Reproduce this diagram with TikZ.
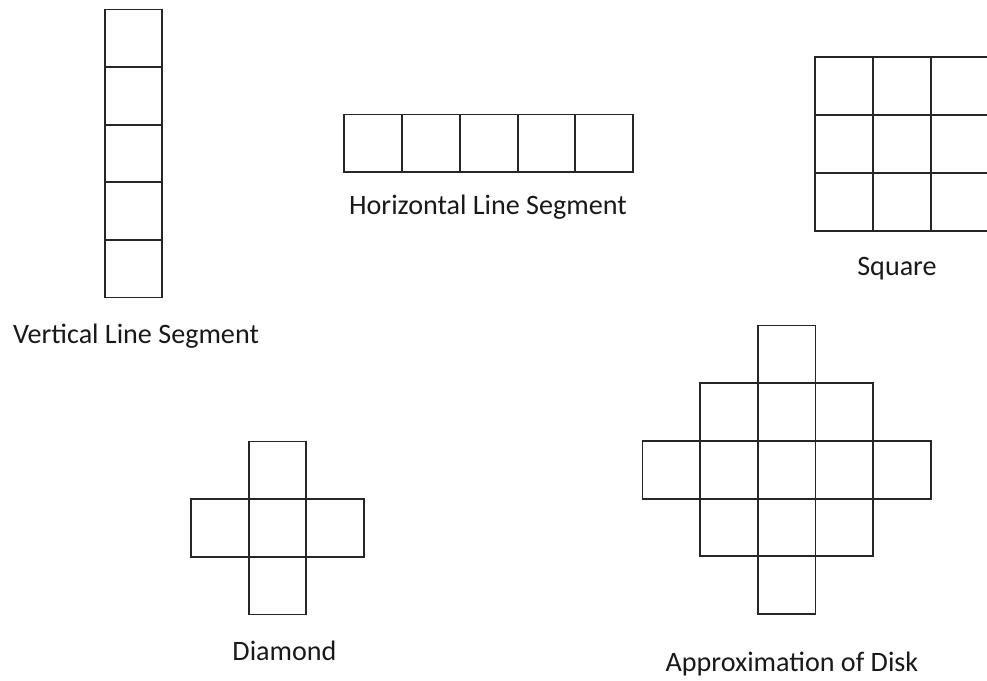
\documentclass[tikz,border=0pt]{standalone}
\usepackage{fontspec}
\setmainfont{Carlito}
\usetikzlibrary{positioning}
\definecolor{cline}{HTML}{262626}
\tikzset{
  every picture/.style={line width=1.5pt},
  cell/.style={draw=cline, minimum size=1.73cm, inner sep=0pt, outer sep=0pt},
  label/.style={font=\fontsize{24}{28}\selectfont, text=black!90, anchor=base, inner sep=0pt},
}

\begin{document}
\begin{tikzpicture}[x=0.03cm, y=-0.03cm]
  \useasboundingbox (0,0) rectangle (987,681);
  % vertical line segment
  \foreach \k in {-2,...,2} {
    \pgfmathsetmacro{\y}{153.5+57.6*\k}
    \node[cell] (v\k) at (133.5, \y) {};
  }
  % horizontal line segment
  \foreach \k in {-2,...,2} {
    \pgfmathsetmacro{\x}{488.7+57.8*\k}
    \node[cell] (h\k) at (\x, 143.3) {};
  }
  % square
  \foreach \i in {-1,0,1} {
    \foreach \j in {-1,0,1} {
      \node[cell] (s\i\j) at (902+57.8*\i, 144+57.8*\j) {};
    }
  }
  % diamond
  \foreach \i/\j [count=\n] in {0/-1, -1/0, 0/0, 1/0, 0/1} {
    \node[cell] (d\n) at (277.5+57.6*\i, 528+57.6*\j) {};
  }
  % disk
  \foreach \i/\j [count=\n] in {0/-2, -1/-1, 0/-1, 1/-1, -2/0, -1/0, 0/0, 1/0, 2/0, -1/1, 0/1, 1/1, 0/2} {
    \node[cell] (c\n) at (786.7+57.7*\i, 469.8+57.7*\j) {};
  }
  \node[label] (vlab) at (136, 343) {Vertical Line Segment};
  \node[label] (hlab) at (488, 215) {Horizontal Line Segment};
  \node[label] (slab) at (897, 275) {Square};
  \node[label] (dlab) at (284.5, 660.5) {Diamond};
  \node[label] (clab) at (792, 671.5) {Approximation of Disk};
\end{tikzpicture}
\end{document}
